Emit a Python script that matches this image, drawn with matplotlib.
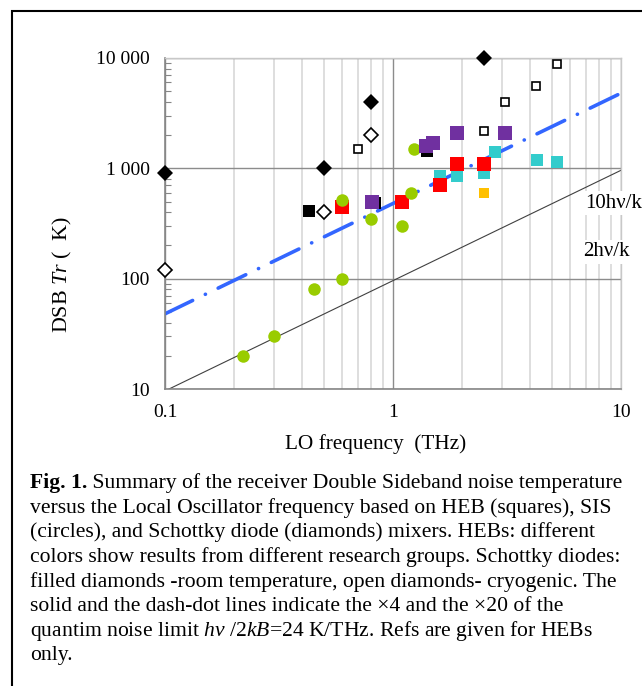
import matplotlib
matplotlib.use("Agg")
import matplotlib.pyplot as plt
from matplotlib.ticker import FixedLocator, NullFormatter, LogLocator
from matplotlib.patches import Rectangle

plt.rcParams['font.family'] = ['Liberation Serif', 'DejaVu Serif']
plt.rcParams['mathtext.fontset'] = 'custom'
plt.rcParams['mathtext.rm'] = 'Liberation Serif'
plt.rcParams['mathtext.it'] = 'Liberation Serif:italic'
plt.rcParams['mathtext.bf'] = 'Liberation Serif:bold'

# ---- data ----
schottky_room_f = [0.1, 0.5, 0.8, 2.5]
schottky_room_T = [900, 1000, 4000, 10000]
schottky_cryo_f = [0.1, 0.5, 0.8]
schottky_cryo_T = [120, 400, 2000]
heb_open_f = [0.7, 2.5, 3.1, 4.25, 5.25]
heb_open_T = [1500, 2200, 4000, 5600, 8800]
heb_black_f = [0.43, 0.83, 1.41]
heb_black_T = [410, 490, 1450]
heb_purple_f = [0.81, 1.39, 1.5, 1.9, 3.1]
heb_purple_T = [500, 1600, 1700, 2100, 2100]
heb_red_f = [0.6, 1.1, 1.6, 1.9, 2.5]
heb_red_T = [450, 500, 700, 1100, 1100]
heb_cyan_f = [1.6, 1.9, 2.5, 2.8, 4.3, 5.25]
heb_cyan_T = [850, 850, 900, 1400, 1200, 1150]
heb_orange_f = [2.5]
heb_orange_T = [600]
sis_f = [0.22, 0.3, 0.45, 0.6, 0.6, 0.8, 1.1, 1.2, 1.24]
sis_T = [20, 30, 80, 100, 520, 350, 300, 600, 1500]

line_f = [0.1, 10]
line_x4_T = [9.6, 960]
line_x20_T = [48, 4800]

ytick_vals = [10, 100, 1000, 10000]
ytick_labels = ['10', '100', '1 000', '10 000']
xtick_vals = [0.1, 1, 10]
xtick_labels = ['0.1', '1', '10']

caption_bold = "Fig. 1."
caption_lines = [
    " Summary of the receiver Double Sideband noise temperature",
    "versus the Local Oscillator frequency based on HEB (squares), SIS",
    "(circles), and Schottky diode (diamonds) mixers. HEBs: different",
    "colors show results from different research groups. Schottky diodes:",
    "filled diamonds -room temperature, open diamonds- cryogenic. The",
    "solid and the dash-dot lines indicate the \u00d74 and the \u00d720 of the",
    r"quantim noise limit $\mathit{h\nu}$ /2$\mathit{kB}$=24 K/THz. Refs are given for HEBs",
    "only.",
]

W, H = 642, 686
fig = plt.figure(figsize=(W / 100, H / 100), dpi=100)
ax = fig.add_axes([165 / W, 1 - 389 / H, (621 - 165) / W, (389 - 58) / H])
ax.set_xscale('log')
ax.set_yscale('log')
ax.set_xlim(0.1, 10)
ax.set_ylim(10, 10000)

# grid
ax.xaxis.set_major_locator(FixedLocator(xtick_vals))
ax.xaxis.set_minor_locator(LogLocator(base=10, subs=range(2, 10)))
ax.xaxis.set_minor_formatter(NullFormatter())
ax.yaxis.set_major_locator(FixedLocator(ytick_vals))
ax.yaxis.set_minor_locator(LogLocator(base=10, subs=range(2, 10)))
ax.yaxis.set_minor_formatter(NullFormatter())
ax.set_xticklabels(xtick_labels)
ax.set_yticklabels(ytick_labels)
ax.grid(True, which='major', axis='both', color='#8c8c8c', lw=1.0, zorder=0)
ax.grid(True, which='minor', axis='x', color='#d4d4d4', lw=1.1, zorder=0)
ax.set_axisbelow(True)
ax.tick_params(axis='both', which='major', length=0, labelsize=14, pad=11)
ax.tick_params(axis='x', which='minor', length=0)
ax.tick_params(axis='y', which='minor', direction='in', length=4, color='#868686', width=0.8)
for s in ['left', 'bottom']:
    ax.spines[s].set_color('#868686')
    ax.spines[s].set_linewidth(1.2)
for s in ['top', 'right']:
    ax.spines[s].set_color('#c8c8c8')
    ax.spines[s].set_linewidth(1.0)

# lines
ax.plot(line_f, line_x4_T, color='#404040', lw=0.8, zorder=2)
dl, = ax.plot(line_f, line_x20_T, color='#3366ff', lw=2.6, zorder=2,
              dash_capstyle='round', solid_capstyle='round')
dl.set_dashes((8.5, 3.9, 0.05, 3.9))

# markers
ax.plot(heb_open_f, heb_open_T, 's', ms=6, mfc='white', mec='black', mew=1.2, ls='none', zorder=4)
ax.plot(heb_cyan_f, heb_cyan_T, 's', ms=8.0, color='#33cccc', mew=0, ls='none', zorder=4)
ax.plot(heb_red_f, heb_red_T, 's', ms=9.6, color='#ff0000', mew=0, ls='none', zorder=5)
ax.plot(heb_orange_f, heb_orange_T, 's', ms=7.8, color='#ffc000', mew=0, ls='none', zorder=5)
ax.plot(sis_f, sis_T, 'o', ms=9.0, color='#99cc00', mew=0, ls='none', zorder=6)
ax.plot(heb_black_f, heb_black_T, 's', ms=8.2, color='black', mew=0, ls='none', zorder=7)
ax.plot(heb_purple_f, heb_purple_T, 's', ms=9.6, color='#7030a0', mew=0, ls='none', zorder=8)
ax.plot(schottky_room_f, schottky_room_T, 'D', ms=8.0, color='black', mew=0, ls='none',
        zorder=9, clip_on=False)
ax.plot(schottky_cryo_f, schottky_cryo_T, 'D', ms=7.2, mfc='white', mec='black', mew=1.2,
        ls='none', zorder=9, clip_on=False)

# line labels
ax.text(6.95, 485, "10h\u03bd/k", fontsize=15, ha='left', va='center', zorder=10,
        clip_on=False, bbox=dict(facecolor='white', edgecolor='none', pad=2))
ax.text(6.8, 175, "2h\u03bd/k", fontsize=15, ha='left', va='center', zorder=10,
        clip_on=False, bbox=dict(facecolor='white', edgecolor='none', pad=2))

# axis labels
fig.text(285 / W, 1 - 444 / H, "LO frequency  (THz)", fontsize=15.3, ha='left', va='center')
fig.text(62 / W, 1 - 333 / H, r"DSB $\mathit{Tr}$ (  K)", fontsize=15.8, ha='center', va='bottom',
         rotation=90)

# caption
y0 = 483
cfs = 15.6
renderer = fig.canvas.get_renderer()
tb = fig.text(30 / W, 1 - y0 / H, caption_bold, fontsize=cfs, fontweight='bold',
              ha='left', va='center')
bw = tb.get_window_extent(renderer=renderer).width
for i, line in enumerate(caption_lines):
    x = 30 + (bw if i == 0 else 0)
    fig.text(x / W, 1 - (y0 + i * 24.7) / H, line, fontsize=cfs, ha='left', va='center')

# outer frame
fig.patches.append(Rectangle((12 / W, -0.05), 1.1, 1 - 11 / H + 0.05, transform=fig.transFigure,
                             fill=False, edgecolor='black', lw=1.5, clip_on=False))

fig.savefig('out.png', dpi=100)
